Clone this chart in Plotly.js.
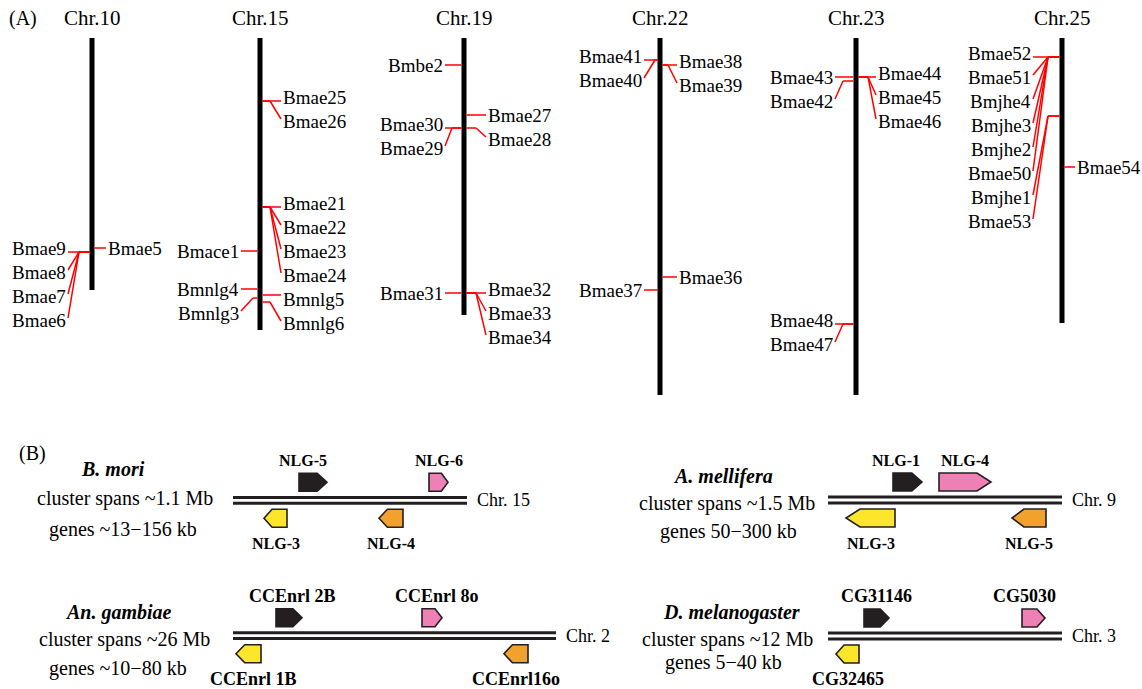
<!DOCTYPE html>
<html><head><meta charset="utf-8">
<script src="https://cdn.plot.ly/plotly-3.0.1.min.js"></script>
<style>html,body{margin:0;padding:0;background:#fff}#chart{width:1142px;height:689px}</style>
</head><body><div id="chart"></div>
<script>
// ================= DATA: panel (A) =================
const chromosomes = ['Chr.10', 'Chr.15', 'Chr.19', 'Chr.22', 'Chr.23', 'Chr.25'];
const chrLengths  = [252, 292, 277, 357, 357, 285];   // relative length units (top = 0)

const geneNames = ['Bmae9','Bmae8','Bmae7','Bmae6','Bmae5',
  'Bmae25','Bmae26','Bmae21','Bmae22','Bmae23','Bmae24','Bmace1','Bmnlg4','Bmnlg3','Bmnlg5','Bmnlg6',
  'Bmbe2','Bmae27','Bmae30','Bmae29','Bmae28','Bmae31','Bmae32','Bmae33','Bmae34',
  'Bmae41','Bmae40','Bmae38','Bmae39','Bmae36','Bmae37',
  'Bmae43','Bmae42','Bmae44','Bmae45','Bmae46','Bmae48','Bmae47',
  'Bmae52','Bmae51','Bmjhe4','Bmjhe3','Bmjhe2','Bmae50','Bmjhe1','Bmae53','Bmae54'];
const geneChr = ['Chr.10','Chr.10','Chr.10','Chr.10','Chr.10',
  'Chr.15','Chr.15','Chr.15','Chr.15','Chr.15','Chr.15','Chr.15','Chr.15','Chr.15','Chr.15','Chr.15',
  'Chr.19','Chr.19','Chr.19','Chr.19','Chr.19','Chr.19','Chr.19','Chr.19','Chr.19',
  'Chr.22','Chr.22','Chr.22','Chr.22','Chr.22','Chr.22',
  'Chr.23','Chr.23','Chr.23','Chr.23','Chr.23','Chr.23','Chr.23',
  'Chr.25','Chr.25','Chr.25','Chr.25','Chr.25','Chr.25','Chr.25','Chr.25','Chr.25'];
const genePos = [214,214,214,214,210,
  63,63,169,169,169,169,213,251,260,257,264,
  27,77,90,90,90,255,255,255,255,
  22,22,27,27,239,252,
  39,43,39,39,39,286,286,
  19,19,19,19,19,19,78,78,129];
const geneSide = ['L','L','L','L','R',
  'R','R','R','R','R','R','L','L','L','R','R',
  'L','R','L','L','R','L','R','R','R',
  'L','L','R','R','R','L',
  'L','L','R','R','R','L','L',
  'L','L','L','L','L','L','L','L','R'];

// ================= DATA: panel (B) =================
const species       = ['B. mori', 'A. mellifera', 'An. gambiae', 'D. melanogaster'];
const clusterSpan   = ['~1.1 Mb', '~1.5 Mb', '~26 Mb', '~12 Mb'];
const geneSizeRange = ['~13\u2212156 kb', '50\u2212300 kb', '~10\u221280 kb', '5\u221240 kb'];
const trackChr      = ['Chr. 15', 'Chr. 9', 'Chr. 2', 'Chr. 3'];
const trackLength   = [234, 234, 323, 234];            // relative diagram units

const bGenes   = ['NLG-5','NLG-6','NLG-3','NLG-4',  'NLG-1','NLG-4','NLG-3','NLG-5',
                  'CCEnrl 2B','CCEnrl 8o','CCEnrl 1B','CCEnrl16o',  'CG31146','CG5030','CG32465'];
const bSpecies = [0,0,0,0, 1,1,1,1, 2,2,2,2, 3,3,3];
const bStart   = [66,196,31,146, 65,111,18,184, 43,189,3,271, 36,194,8];
const bEnd     = [94,215,54,170, 94,163,67,218, 69,209,28,295, 61,217,31];
const bStrand  = ['+','+','-','-', '+','+','-','-', '+','+','-','-', '+','+','-'];
const bGroup   = ['black','pink','yellow','orange', 'black','pink','yellow','orange',
                  'black','pink','yellow','orange', 'black','pink','yellow'];

// ================= LAYOUT / STYLE =================
const SERIF = 'Liberation Serif, Times New Roman, serif';
const chrX = [92, 260, 464, 660, 856, 1062];
const reachL = [24, 19, 19, 16, 21, 29], reachR = [14, 21, 22, 17, 20, 13];
const jointL = [13, 7, 12, 5, 13, 14],   jointR = [8, 10, 12, 8, 12, 7];
const CHR_TOP = 38, BAR_W = 5, SPACING = 24, LIFT = 4;
const RED = '#ff0000', INK = '#231f20';
const groupColor = {black:'#231f20', pink:'#ee80b6', yellow:'#fbe62b', orange:'#f0a22c'};

const trackX0  = [233, 828, 233, 828];
const trackY   = [500.3, 500, 635.7, 636];
const titleXY  = [[113,469],[723,476],[118,612],[731,612]];
const spanXY   = [[125,498],[727,503],[124,639],[727,639]];
const sizeXY   = [[123,529],[728,531],[118,668],[723,662]];
const labelNudge = {'0':-10,'4':-12,'13':-9,'9':5,'8':3,'10':5};

const shapes = [], annotations = [];
function txt(x, y, text, size, xa, extra) {
  annotations.push(Object.assign({x:x, y:y, xref:'x', yref:'y', text:text, showarrow:false,
    xanchor:xa||'center', yanchor:'middle', borderpad:0,
    font:{family:SERIF, size:size, color:'#000'}}, extra||{}));
}
function seg(x0,y0,x1,y1,color,w){
  shapes.push({type:'line', xref:'x', yref:'y', x0:x0,y0:y0,x1:x1,y1:y1, line:{color:color,width:w}});
}

// ---- panel A ----
txt(8, 18, '(A)', 20, 'left');
chromosomes.forEach((c, ci) => {
  const cx = chrX[ci];
  txt(cx, 18, c, 21);
  shapes.push({type:'rect', xref:'x', yref:'y', x0:cx-BAR_W/2, x1:cx+BAR_W/2,
    y0:CHR_TOP, y1:CHR_TOP+chrLengths[ci], fillcolor:'#000', line:{width:0}});
  ['L','R'].forEach(side => {
    const idx = geneNames.map((_, i) => i).filter(i => geneChr[i] === c && geneSide[i] === side);
    const dir = side === 'L' ? -1 : 1;
    const reach = side === 'L' ? reachL[ci] : reachR[ci];
    const joint = side === 'L' ? jointL[ci] : jointR[ci];
    const edge = cx + dir*BAR_W/2, jx = cx + dir*joint, ex = cx + dir*reach;
    let prev = -1e9;
    idx.forEach((gi, k) => {
      const py = CHR_TOP + genePos[gi];
      const nextSame = k+1 < idx.length && genePos[idx[k+1]] === genePos[gi];
      const ly = Math.max(py - (nextSame ? LIFT : 0), prev + SPACING);
      prev = ly;
      if (ly - py <= LIFT) {
        seg(edge, py, ex, py, RED, 1.5);
      } else {
        seg(edge, py, jx, py, RED, 1.5);
        seg(jx, py, ex, ly - 2, RED, 1.5);
      }
      txt(ex + dir*1, ly, geneNames[gi], 19, side === 'L' ? 'right' : 'left');
    });
  });
});

// ---- panel B ----
txt(18, 453, '(B)', 20, 'left');
species.forEach((sp, si) => {
  txt(titleXY[si][0], titleXY[si][1], '<b><i>' + sp + '</i></b>', 20);
  txt(spanXY[si][0], spanXY[si][1], 'cluster spans ' + clusterSpan[si], 20);
  txt(sizeXY[si][0], sizeXY[si][1], 'genes ' + geneSizeRange[si], 20);
  const x0 = trackX0[si], x1 = x0 + trackLength[si], cy = trackY[si];
  seg(x0, cy-2.9, x1, cy-2.9, INK, 3);
  seg(x0, cy+2.9, x1, cy+2.9, INK, 3);
  txt(x1 + 9, cy, trackChr[si], 18, 'left');
});
bGenes.forEach((g, gi) => {
  const si = bSpecies[gi], x0 = trackX0[si], cy = trackY[si];
  const s = x0 + bStart[gi], e = x0 + bEnd[gi];
  const up = bStrand[gi] === '+';
  const top = up ? cy - 27 : cy + 9, bot = top + 18, mid = (top + bot) / 2;
  const tip = Math.min(14, 0.35 * (e - s));
  const path = up
    ? `M${s},${top} L${e-tip},${top} L${e},${mid} L${e-tip},${bot} L${s},${bot} Z`
    : `M${e},${top} L${s+tip},${top} L${s},${mid} L${s+tip},${bot} L${e},${bot} Z`;
  shapes.push({type:'path', xref:'x', yref:'y', path:path,
    fillcolor:groupColor[bGroup[gi]], line:{color:INK, width:1.6}});
  const lx = (s + e) / 2 + (labelNudge[String(gi)] || 0);
  const fs = g.startsWith('NLG') ? 16 : 18;
  txt(lx, up ? top - 13 : bot + 16, '<b>' + g + '</b>', fs);
});

const layout = {
  width:1142, height:689, margin:{l:0,r:0,t:0,b:0},
  paper_bgcolor:'#fff', plot_bgcolor:'#fff', showlegend:false,
  xaxis:{range:[0,1142], visible:false, fixedrange:true},
  yaxis:{range:[689,0], visible:false, fixedrange:true},
  shapes:shapes, annotations:annotations
};
Plotly.newPlot('chart', [{x:[], y:[], type:'scatter', mode:'markers', hoverinfo:'skip'}], layout,
  {staticPlot:true, displayModeBar:false});
</script></body></html>
